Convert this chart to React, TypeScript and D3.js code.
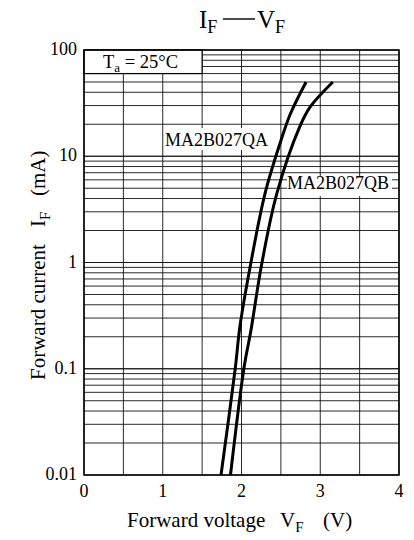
import React from 'react';
import * as d3 from 'd3';

const WIDTH = 414;
const HEIGHT = 540;
const margin = { l: 84, r: 15, t: 50, b: 65 };

// Forward current (mA) vs forward voltage (V)
const currentQA = [0.01, 0.1, 0.25, 1, 4.5, 14, 25, 50];
const voltageQA = [1.74, 1.92, 1.98, 2.12, 2.3, 2.5, 2.62, 2.82];
const currentQB = [0.01, 0.1, 0.23, 1, 4.5, 19, 29, 50];
const voltageQB = [1.86, 2.03, 2.12, 2.26, 2.45, 2.74, 2.87, 3.16];

const xTicks = [0, 1, 2, 3, 4];
const yTicks = [0.01, 0.1, 1, 10, 100];
const yTickLabels = ['0.01', '0.1', '1', '10', '100'];

const FONT = '"Liberation Serif", "Times New Roman", serif';

const App = () => {
  const w = WIDTH - margin.l - margin.r;
  const h = HEIGHT - margin.t - margin.b;

  const x = d3.scaleLinear().domain([0, 4]).range([0, w]);
  const y = d3.scaleLog().domain([0.01, 100]).range([h, 0]);

  // grid lines: every 0.5 V, and 1..9 in each decade
  const xGrid = d3.range(0, 4.01, 0.5);
  const yGrid: number[] = [];
  [0.01, 0.1, 1, 10].forEach((d) => {
    for (let k = 1; k <= 10; k++) yGrid.push(d * k);
  });

  const line = d3
    .line<[number, number]>()
    .x((d) => x(d[0]))
    .y((d) => y(d[1]))
    .curve(d3.curveCatmullRom.alpha(0.5));

  const qa = voltageQA.map((v, i) => [v, currentQA[i]] as [number, number]);
  const qb = voltageQB.map((v, i) => [v, currentQB[i]] as [number, number]);

  return (
    <svg width={WIDTH} height={HEIGHT} style={{ display: 'block', margin: '-8px' }} fontFamily={FONT}>
      {/* title */}
      <text x={199} y={28} fontSize={25}>
        I<tspan fontSize={18} dy={5}>F</tspan>
      </text>
      <line x1={223} x2={255} y1={19} y2={19} stroke="#000" strokeWidth={1.4} />
      <text x={257} y={28} fontSize={25}>
        V<tspan fontSize={18} dy={5}>F</tspan>
      </text>

      <g transform={`translate(${margin.l}, ${margin.t})`}>
        {xGrid.map((d) => (
          <line key={'x' + d} x1={x(d)} x2={x(d)} y1={0} y2={h} stroke="#111" strokeWidth={0.9} />
        ))}
        {yGrid.map((d, i) => (
          <line key={'y' + i} x1={0} x2={w} y1={y(d)} y2={y(d)} stroke="#111" strokeWidth={0.9} />
        ))}

        {/* Ta box */}
        <rect x={0} y={0} width={x(1.5)} height={y(60)} fill="#fff" stroke="#000" strokeWidth={1.2} />
        <text x={19} y={18} fontSize={18.5}>
          T<tspan fontSize={13} dy={4}>a</tspan>
          <tspan dy={-4}> = 25°C</tspan>
        </text>

        {/* curve labels */}
        <rect x={80} y={78} width={108} height={22} fill="#fff" />
        <text x={81} y={96} fontSize={18}>MA2B027QA</text>
        <rect x={203} y={126} width={105} height={20} fill="#fff" />
        <text x={203} y={139} fontSize={18}>MA2B027QB</text>

        <path d={line(qa) || ''} fill="none" stroke="#000" strokeWidth={3} />
        <path d={line(qb) || ''} fill="none" stroke="#000" strokeWidth={3} />

        <rect x={0} y={0} width={w} height={h} fill="none" stroke="#000" strokeWidth={1.5} />

        {yTicks.map((d, i) => (
          <text key={'yt' + d} x={-7} y={y(d) + 5} fontSize={18} textAnchor="end">
            {yTickLabels[i]}
          </text>
        ))}
        {xTicks.map((d) => (
          <text key={'xt' + d} x={x(d)} y={h + 22} fontSize={18} textAnchor="middle">
            {d}
          </text>
        ))}
      </g>

      {/* x axis title */}
      <text x={127} y={527} fontSize={21}>Forward voltage</text>
      <text x={280} y={527} fontSize={21}>
        V<tspan fontSize={15} dy={5}>F</tspan>
      </text>
      <text x={323} y={527} fontSize={21}>(V)</text>

      {/* y axis title */}
      <g transform="translate(45, 0) rotate(-90)">
        <text x={-380} y={0} fontSize={21}>Forward current</text>
        <text x={-227} y={0} fontSize={21}>
          I<tspan fontSize={15} dy={5}>F</tspan>
        </text>
        <text x={-196} y={0} fontSize={21}>(mA)</text>
      </g>
    </svg>
  );
};

export default App;
